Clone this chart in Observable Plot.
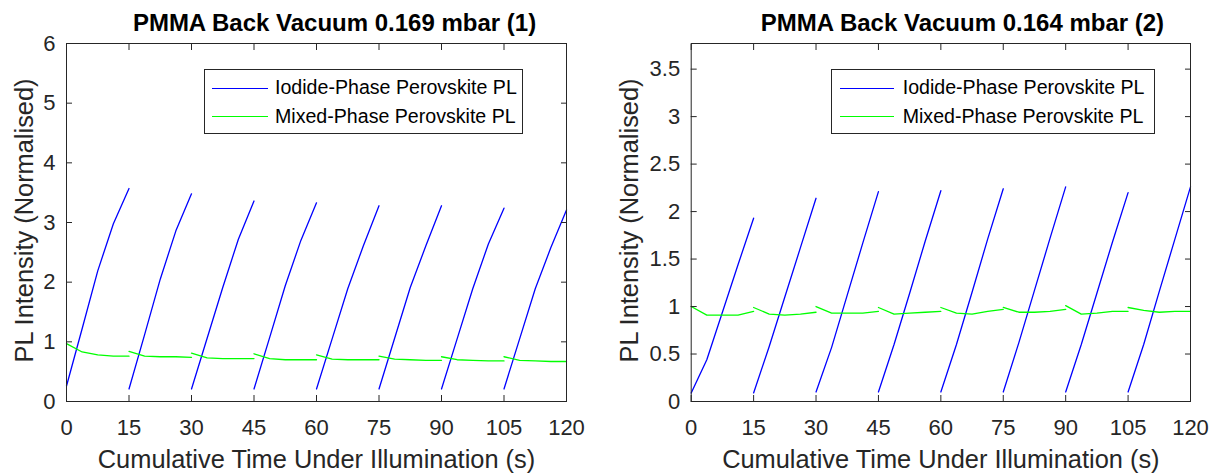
<!DOCTYPE html>
<html>
<head>
<meta charset="utf-8">
<script src="https://cdn.jsdelivr.net/npm/d3@7"></script>
<script src="https://cdn.jsdelivr.net/npm/@observablehq/plot@0.6"></script>
<style>
  html, body { margin: 0; padding: 0; background: #fff; }
  #wrap { position: relative; width: 1211px; height: 473px; overflow: hidden; font-family: "Liberation Sans", Arial, Helvetica, sans-serif; }
  .panel { position: absolute; top: 0; }
  .legend { position: absolute; box-sizing: border-box; border: 1px solid #262626; background: #fff; }
  .legend .sw { position: absolute; height: 0; border-top: 1.3px solid; }
  .legend .lab { position: absolute; font-size: 19.6px; line-height: 1; color: #000; transform: translateY(-50%); white-space: nowrap; }
</style>
</head>
<body>
<div id="wrap"></div>
<script>
// ---------- data ----------
const titles = ["PMMA Back Vacuum 0.169 mbar (1)", "PMMA Back Vacuum 0.164 mbar (2)"];
const xLabel = "Cumulative Time Under Illumination (s)";
const yLabel = "PL Intensity (Normalised)";
const seriesNames = ["Iodide-Phase Perovskite PL", "Mixed-Phase Perovskite PL"];
const seriesColors = ["#0000ff", "#00ff00"];

const xTicks = [0, 15, 30, 45, 60, 75, 90, 105, 120];
const yTicksLeft = [0, 1, 2, 3, 4, 5, 6];
const yTicksRight = [0, 0.5, 1, 1.5, 2, 2.5, 3, 3.5];

// each illumination segment lasts 15 s, sampled every 3.75 s
const segmentStarts = [0, 15, 30, 45, 60, 75, 90, 105];
const sampleOffsets = [0, 3.75, 7.5, 11.25, 15];

// Panel 1 (0.169 mbar)
const iodide1 = [
  [0.26, 1.22, 2.19, 2.98, 3.57],
  [0.21, 1.12, 2.05, 2.86, 3.48],
  [0.21, 1.06, 1.91, 2.72, 3.36],
  [0.21, 1.07, 1.94, 2.70, 3.33],
  [0.21, 1.05, 1.89, 2.61, 3.28],
  [0.21, 1.06, 1.91, 2.61, 3.28],
  [0.21, 1.05, 1.89, 2.64, 3.24],
  [0.21, 1.05, 1.89, 2.58, 3.21]
];
const mixed1 = [
  [0.97, 0.83, 0.78, 0.76, 0.76],
  [0.84, 0.76, 0.75, 0.75, 0.74],
  [0.81, 0.73, 0.72, 0.72, 0.72],
  [0.80, 0.72, 0.70, 0.70, 0.70],
  [0.78, 0.71, 0.70, 0.70, 0.70],
  [0.76, 0.71, 0.70, 0.69, 0.69],
  [0.75, 0.70, 0.69, 0.68, 0.68],
  [0.75, 0.69, 0.68, 0.67, 0.67]
];
// Panel 2 (0.164 mbar)
const iodide2 = [
  [0.09, 0.44, 0.94, 1.44, 1.93],
  [0.09, 0.58, 1.10, 1.62, 2.14],
  [0.10, 0.57, 1.12, 1.67, 2.21],
  [0.10, 0.60, 1.14, 1.69, 2.22],
  [0.10, 0.60, 1.15, 1.71, 2.24],
  [0.10, 0.62, 1.17, 1.72, 2.26],
  [0.10, 0.60, 1.14, 1.68, 2.20],
  [0.10, 0.60, 1.16, 1.71, 2.26]
];
const mixed2 = [
  [1.00, 0.91, 0.91, 0.91, 0.95],
  [0.99, 0.92, 0.91, 0.92, 0.94],
  [1.00, 0.93, 0.93, 0.93, 0.95],
  [0.99, 0.92, 0.93, 0.94, 0.95],
  [0.99, 0.93, 0.92, 0.95, 0.97],
  [0.99, 0.94, 0.94, 0.95, 0.97],
  [1.01, 0.92, 0.93, 0.95, 0.95],
  [0.99, 0.96, 0.94, 0.95, 0.95]
];

// ---------- build ----------
function toRows(segs) {
  const rows = [];
  segs.forEach((vals, s) => vals.forEach((v, k) => rows.push({t: segmentStarts[s] + sampleOffsets[k], v, seg: s})));
  return rows;
}

const FONT = '"Liberation Sans", Arial, Helvetica, sans-serif';
const AX = "#262626";

function panel(cfg) {
  return Plot.plot({
    width: cfg.width, height: 473,
    marginLeft: cfg.ml, marginRight: cfg.mr, marginTop: 43, marginBottom: 72,
    style: {fontFamily: FONT, fontSize: "22px", color: AX, background: "transparent", overflow: "visible"},
    x: {domain: [0, 120]},
    y: {domain: cfg.ydom},
    marks: [
      Plot.line(toRows(cfg.iodide), {x: "t", y: "v", z: "seg", stroke: seriesColors[0], strokeWidth: 1.3}),
      Plot.line(toRows(cfg.mixed), {x: "t", y: "v", z: "seg", stroke: seriesColors[1], strokeWidth: 1.3}),
      Plot.frame({stroke: AX}),
      Plot.axisX({ticks: xTicks, tickSize: -6, tickPadding: 24, tickFormat: d => String(d), label: null, fontSize: 22}),
      Plot.axisX({anchor: "top", ticks: xTicks, tickSize: -6, tickFormat: () => "", label: null}),
      Plot.axisY({ticks: cfg.yticks, tickSize: -6, tickPadding: 17, tickFormat: d => String(d), label: null, fontSize: 22}),
      Plot.axisY({anchor: "right", ticks: cfg.yticks, tickSize: -6, tickFormat: () => "", label: null}),
      Plot.text([cfg.title], {text: d => d, frameAnchor: "top", dx: cfg.tdx, dy: -12.3, lineAnchor: "bottom", textAnchor: "middle", fontSize: 24, fontWeight: "bold", fill: "#000"}),
      Plot.text([xLabel], {text: d => d, frameAnchor: "bottom", dy: 66.6, lineAnchor: "bottom", textAnchor: "middle", fontSize: 25.4, fill: AX}),
      Plot.text([yLabel], {text: d => d, frameAnchor: "left", dx: cfg.ydx, dy: -2, rotate: -90, lineAnchor: "bottom", textAnchor: "middle", fontSize: 25.4, fill: AX})
    ]
  });
}

const wrap = document.getElementById("wrap");

function addPanel(left, plot) {
  const d = document.createElement("div");
  d.className = "panel";
  d.style.left = left + "px";
  d.appendChild(plot);
  wrap.appendChild(d);
}

addPanel(0, panel({width: 605, ml: 66, mr: 39, ydom: [0, 6], yticks: yTicksLeft, iodide: iodide1, mixed: mixed1, title: titles[0], tdx: 18, ydx: -34}));
addPanel(605, panel({width: 606, ml: 85.7, mr: 21, ydom: [0, 3.77], yticks: yTicksRight, iodide: iodide2, mixed: mixed2, title: titles[1], tdx: 21.6, ydx: -53.7}));

function addLegend(box) {
  const lg = document.createElement("div");
  lg.className = "legend";
  Object.assign(lg.style, {left: box.x + "px", top: box.y + "px", width: box.w + "px", height: box.h + "px"});
  seriesNames.forEach((name, i) => {
    const ry = box.rows[i];
    const sw = document.createElement("div");
    sw.className = "sw";
    Object.assign(sw.style, {left: box.sx0 + "px", width: (box.sx1 - box.sx0) + "px", top: ry + "px", borderTopColor: seriesColors[i]});
    lg.appendChild(sw);
    const lab = document.createElement("div");
    lab.className = "lab";
    lab.textContent = name;
    Object.assign(lab.style, {left: box.tx + "px", top: (ry + 0.5) + "px"});
    lg.appendChild(lab);
  });
  wrap.appendChild(lg);
}

addLegend({x: 204, y: 69, w: 319, h: 65, sx0: 7, sx1: 63, tx: 70, rows: [17.5, 46]});
addLegend({x: 830.7, y: 69, w: 324, h: 65, sx0: 8, sx1: 62, tx: 71, rows: [17.5, 46]});
</script>
</body>
</html>
